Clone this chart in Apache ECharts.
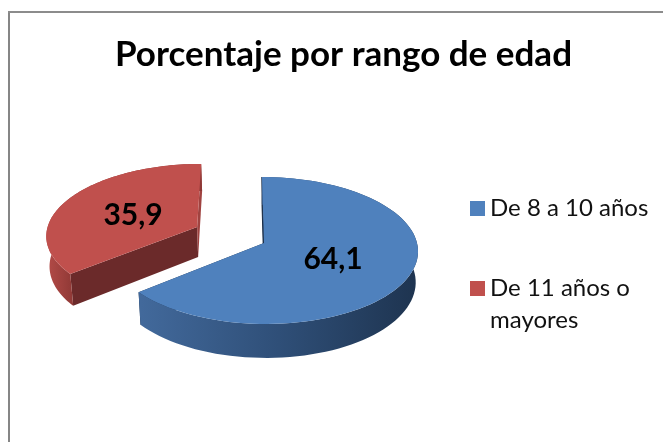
<!DOCTYPE html>
<html><head><meta charset="utf-8">
<style>html,body{margin:0;padding:0;background:#fff}#c{width:663px;height:442px}</style>
<script src="https://cdn.jsdelivr.net/npm/echarts@6/dist/echarts.min.js"></script>
</head><body><div id="c"></div>
<script>
const categories = ['De 8 a 10 años', 'De 11 años o mayores'];
const values = [64.1, 35.9];
const valueLabels = ['64,1', '35,9'];
const titleText = 'Porcentaje por rango de edad';

const colors = ['#4f81bd', '#c0504d'];
const geo = {cx: 264, cy: 243, rx: 153, ry: 72.7, p: 0.102, depth: 30.5, shrink: 0.985, shear: 2};
const explode = [[0, 0], [-0.444, 0.224]];
const labelPos = [[333, 259], [133, 215]];
const wallStops = [
  [[0, '#42699b'], [0.5, '#2f4f78'], [1, '#1e3450']],
  [[0, '#b24a47'], [1, '#8e3835']]
];
const wallSpan = [[141, 416], [48, 74]];
const faceColors = ['#1a2d47', '#6b2a2a'];
const endFaceColors = ['#1a2d47', '#a04340'];

function project(u, v, down) {
  const f = 1 / (1 + geo.p * v);
  let x = geo.cx + geo.rx * u * f - geo.shear * v;
  let y = geo.cy - geo.ry * v * f;
  if (down) { x = geo.cx + (x - geo.cx) * geo.shrink; y += geo.depth * f; }
  return [x, y];
}
const total = values.reduce((a, b) => a + b, 0);

function renderSlice(idx) {
  const start = values.slice(0, idx).reduce((a, b) => a + b, 0) / total * Math.PI * 2;
  const end = start + values[idx] / total * Math.PI * 2;
  const [du, dv] = explode[idx];
  const rim = [];
  const N = 90;
  for (let i = 0; i <= N; i++) {
    const a = start + (end - start) * i / N;
    rim.push([du + Math.sin(a), dv + Math.cos(a)]);
  }
  const topRim = rim.map(p => project(p[0], p[1], false));
  const botRim = rim.map(p => project(p[0], p[1], true));
  const vTop = project(du, dv, false), vBot = project(du, dv, true);
  const poly = (pts, style) => ({type: 'polygon', shape: {points: pts}, style});
  const grad = new echarts.graphic.LinearGradient(wallSpan[idx][0], 0, wallSpan[idx][1], 0,
    wallStops[idx].map(s => ({offset: s[0], color: s[1]})), true);
  return {type: 'group', children: [
    poly([vTop, topRim[0], botRim[0], vBot], idx === 0
      ? {fill: faceColors[0], stroke: faceColors[0], lineWidth: 1}
      : {fill: faceColors[1]}),
    poly([vTop, topRim[N], botRim[N], vBot], {fill: idx === 1 ? endFaceColors[1] : faceColors[0]}),
    poly(topRim.concat(botRim.slice().reverse()), {fill: grad}),
    poly([vTop].concat(topRim), {fill: colors[idx]}),
    {type: 'text', x: labelPos[idx][0], y: labelPos[idx][1], style: {
      text: valueLabels[idx], fill: '#000', font: 'bold 30px Lato', align: 'center', verticalAlign: 'middle'}}
  ]};
}
const makeSeries = idx => ({
  type: 'custom', name: categories[idx], coordinateSystem: 'none', silent: true,
  itemStyle: {color: colors[idx]}, data: [values[idx]], z: idx === 1 ? 2 : 3,
  renderItem: () => renderSlice(idx)
});

const chart = echarts.init(document.getElementById('c'), null, {renderer: 'canvas'});
chart.setOption({
  animation: false,
  backgroundColor: '#fff',
  title: {text: titleText, left: 115, top: 37, itemGap: 0, padding: 0,
    textStyle: {fontFamily: 'Lato', fontWeight: 'bold', fontSize: 35, color: '#000'}},
  legend: {
    orient: 'vertical', left: 470, top: 192.5, itemWidth: 15, itemHeight: 15, itemGap: 16, padding: 0,
    icon: 'rect', selectedMode: false,
    textStyle: {fontFamily: 'Lato', fontSize: 24, color: '#111', lineHeight: 32},
    formatter: n => n === categories[1] ? ' \nDe 11 años o\nmayores' : n,
    data: categories
  },
  graphic: [
    {type: 'line', shape: {x1: 9, y1: 11, x2: 9, y2: 442}, style: {stroke: '#868686', lineWidth: 2}},
    {type: 'line', shape: {x1: 8, y1: 12, x2: 663, y2: 12}, style: {stroke: '#8c8c8c', lineWidth: 2}}
  ],
  series: [makeSeries(0), makeSeries(1)]
});
</script></body></html>
